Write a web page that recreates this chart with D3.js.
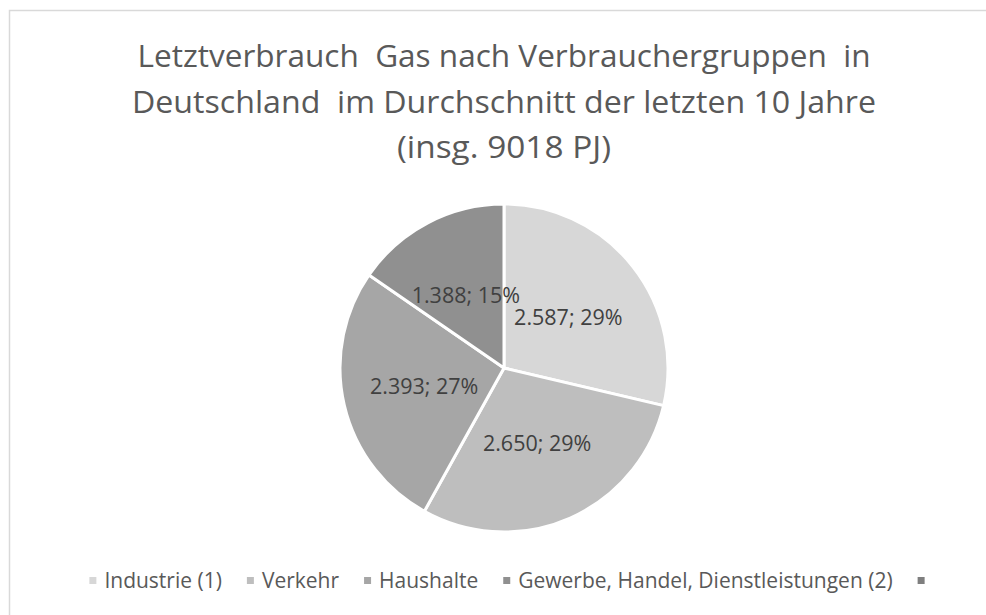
<!DOCTYPE html>
<html>
<head>
<meta charset="utf-8">
<script src="https://cdn.jsdelivr.net/npm/d3@7"></script>
<style>
  html, body { margin: 0; padding: 0; background: #fff; }
  svg { display: block; font-family: 'Open Sans', 'Noto Sans', sans-serif; }
</style>
</head>
<body>
<svg id="chart" width="986" height="615"></svg>
<script>
const titleLines = [
  'Letztverbrauch  Gas nach Verbrauchergruppen  in',
  'Deutschland  im Durchschnitt der letzten 10 Jahre',
  '(insg. 9018 PJ)',
]
const categories = ['Industrie (1)', 'Verkehr', 'Haushalte', 'Gewerbe, Handel, Dienstleistungen (2)']
const values = [2587, 2650, 2393, 1388]
const sliceColors = ['#d7d7d7', '#bebebe', '#a6a6a6', '#909090']
// legend has a fifth, unlabelled entry in the source
const legendLabels = [...categories, '']
const legendColors = [...sliceColors, '#7f7f7f']

const width = 986
const height = 615
const svg = d3.select('#chart')

// outer chart border (right/bottom edges lie off-canvas)
svg.append('rect')
  .attr('x', 9.5).attr('y', 10.5)
  .attr('width', 1100).attr('height', 800)
  .attr('fill', '#fff')
  .attr('stroke', '#d9d9d9')
  .attr('stroke-width', 1.5)

// title
const titleWidths = [733, 744, 214]
const title = svg.append('g').attr('class', 'title')
titleLines.forEach((t, i) => {
  title.append('text')
    .attr('x', 504)
    .attr('y', 67 + i * 45.5)
    .attr('text-anchor', 'middle')
    .attr('font-size', 31)
    .attr('fill', '#595959')
    .attr('textLength', titleWidths[i])
    .attr('lengthAdjust', 'spacingAndGlyphs')
    .style('white-space', 'pre')
    .text(t)
})

// pie
const cx = 504, cy = 368, radius = 164
const total = d3.sum(values)
const de = d3.formatLocale({ decimal: ',', thousands: '.', grouping: [3], currency: ['', ' €'] })
const fmt = de.format(',d')

const pie = d3.pie().sort(null).value((d) => d.value)
const arcs = pie(categories.map((c, i) => ({ name: c, value: values[i], color: sliceColors[i] })))
const arc = d3.arc().innerRadius(0).outerRadius(radius)

const g = svg.append('g').attr('transform', `translate(${cx},${cy})`)
g.selectAll('path.slice')
  .data(arcs)
  .join('path')
  .attr('class', 'slice')
  .attr('d', arc)
  .attr('fill', (d) => d.data.color)
  .attr('stroke', '#fff')
  .attr('stroke-width', 3)
  .attr('stroke-linejoin', 'round')

g.selectAll('text.lbl')
  .data(arcs)
  .join('text')
  .attr('class', 'lbl')
  .attr('transform', (d) => `translate(${arc.centroid(d)})`)
  .attr('text-anchor', 'middle')
  .attr('dy', '0.35em')
  .attr('font-size', 21.5)
  .attr('fill', '#404040')
  .text((d) => `${fmt(d.data.value)}; ${Math.round((d.data.value / total) * 100)}%`)

// legend
const legend = svg.append('g').attr('class', 'legend')
const legendY = 588
const sq = 7, sqGap = 8, itemGap = 25
const items = legend.selectAll('g.item')
  .data(legendLabels.map((l, i) => ({ label: l, color: legendColors[i] })))
  .join('g')
  .attr('class', 'item')
items.append('rect')
  .attr('width', sq).attr('height', sq)
  .attr('y', legendY - 11)
  .attr('fill', (d) => d.color)
items.append('text')
  .attr('x', sq + sqGap)
  .attr('y', legendY)
  .attr('font-size', 21)
  .attr('fill', '#595959')
  .text((d) => d.label)

let x = 0
const offsets = []
items.each(function (d) {
  offsets.push(x)
  const w = d.label ? this.querySelector('text').getComputedTextLength() + sq + sqGap : sq
  x += w + itemGap
})
const legendW = x - itemGap
const startX = 507 - legendW / 2
items.attr('transform', (d, i) => `translate(${startX + offsets[i]},0)`)
</script>
</body>
</html>
